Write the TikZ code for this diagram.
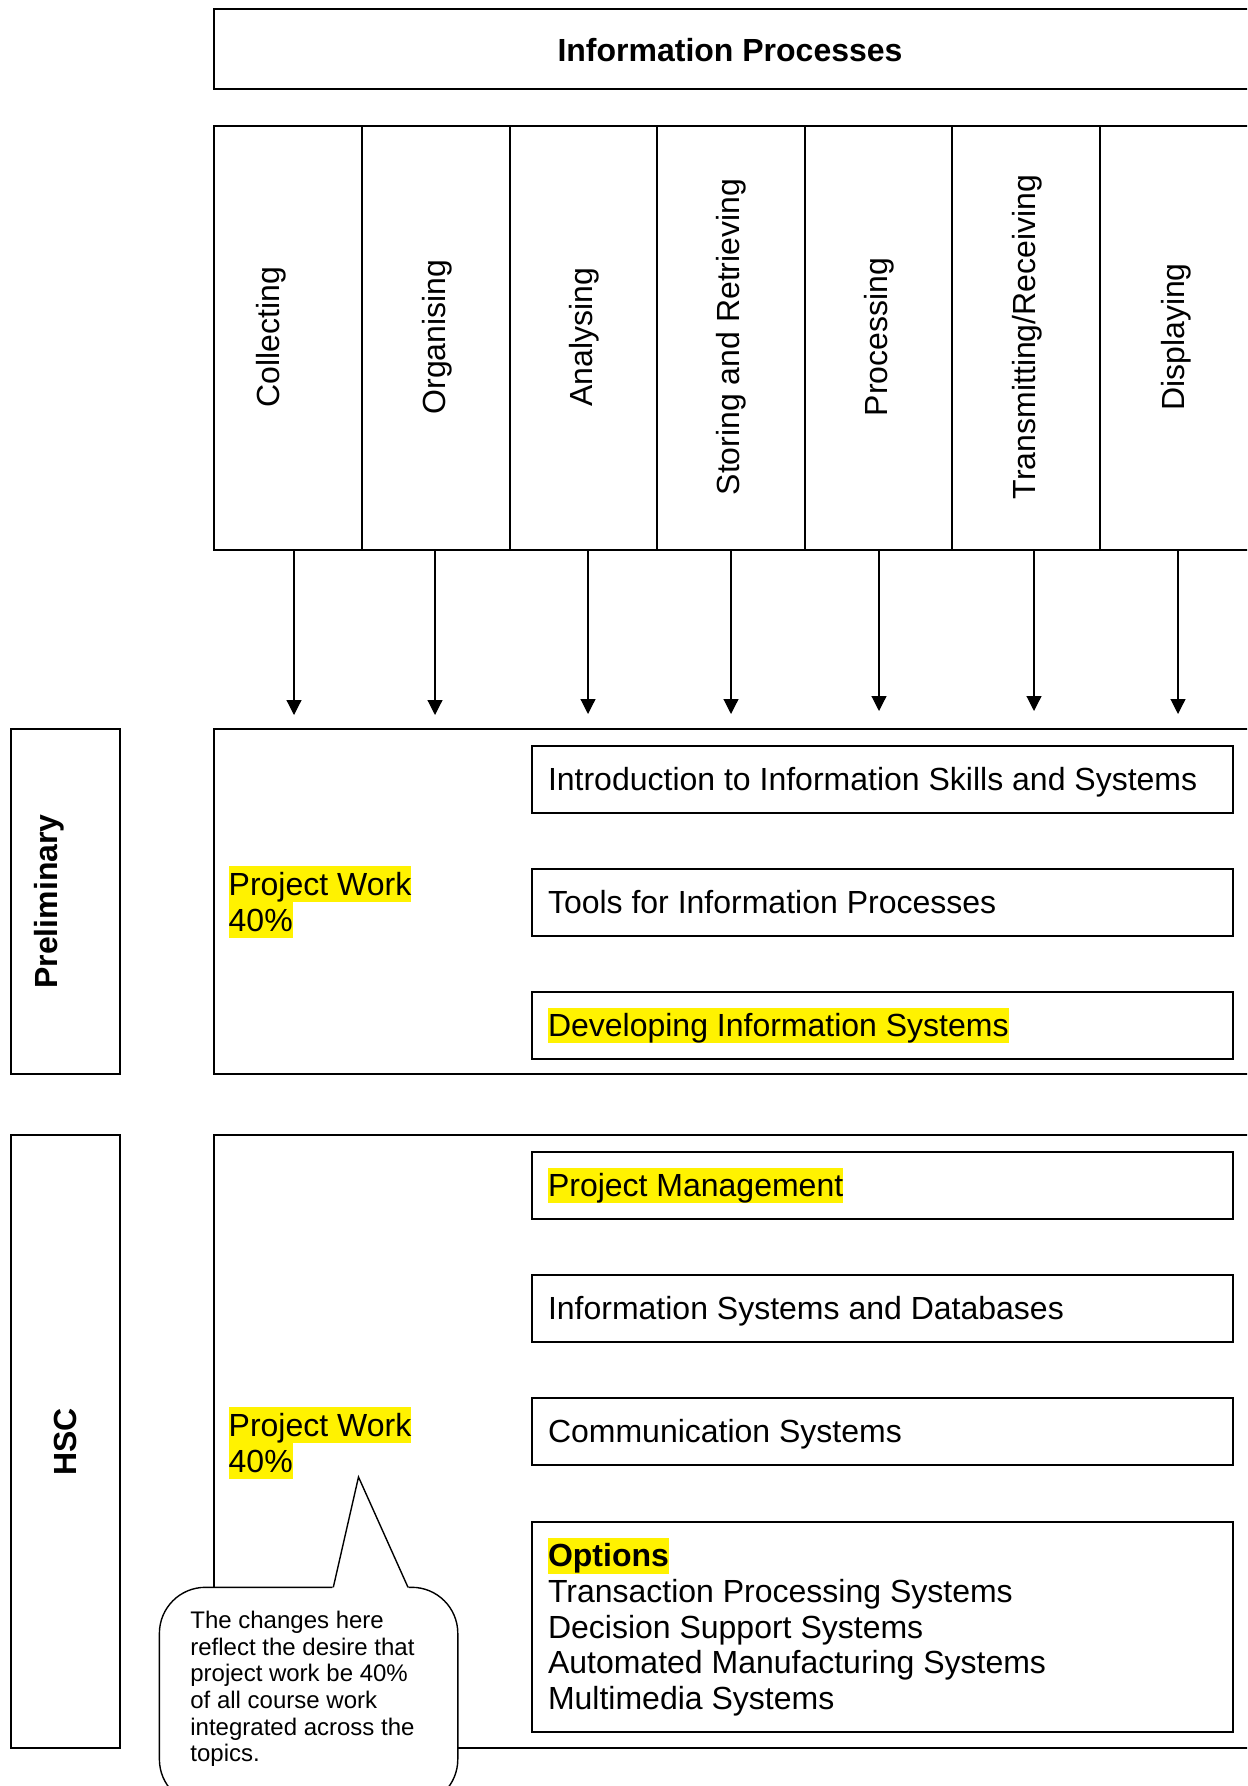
\documentclass[tikz,border=0pt]{standalone}
\usepackage{fontspec}
\setmainfont{Liberation Sans}
\usetikzlibrary{arrows.meta}
\newcommand\hlt[1]{{\setlength{\fboxsep}{0pt}\colorbox{yellow}{\rule[-3.4pt]{0pt}{17.9pt}#1}}}
\newcommand\stl{\rule[-3.4pt]{0pt}{17.9pt}}
\begin{document}
\begin{tikzpicture}[x=0.5pt,y=-0.5pt,
  box/.style={draw, line width=1pt, inner sep=0pt, outer sep=0pt, anchor=north west},
  topic/.style={draw, line width=1pt, anchor=north west, outer sep=0pt, minimum width=350.5pt,
    minimum height=33.5pt, inner xsep=8pt, inner ysep=0pt, text width=334.5pt,
    align=flush left, font=\fontsize{16pt}{17.85pt}\selectfont},
  collabel/.style={rotate=90, inner sep=0pt, font=\fontsize{16pt}{18pt}\selectfont},
  sidelabel/.style={rotate=90, inner sep=0pt, font=\fontsize{16pt}{18pt}\selectfont\bfseries},
  flow/.style={line width=0.6pt, -{Triangle[width=7.5pt,length=7.5pt]}},
  pw/.style={anchor=north west, inner sep=0pt, align=flush left,
    font=\fontsize{16pt}{17.95pt}\selectfont},
  callbox/.style={draw, line width=0.7pt, fill=white, rounded corners=23pt,
    anchor=north west, inner sep=0pt, outer sep=0pt},
]
\useasboundingbox (0,0) rectangle (1247,1786);
\clip (0,0) rectangle (1247,1786);

% title box
\node[box, minimum width=523pt, minimum height=40pt] (top) at (214,9) {};
\node[inner sep=0pt, font=\fontsize{16pt}{18pt}\selectfont\bfseries] (title) at (730,50) {Information Processes};

% process columns
\node[box, minimum width=74pt, minimum height=212pt] (c1) at (214,126) {};
\node[box, minimum width=74pt, minimum height=212pt] (c2) at (362,126) {};
\node[box, minimum width=73.5pt, minimum height=212pt] (c3) at (510,126) {};
\node[box, minimum width=74pt, minimum height=212pt] (c4) at (657,126) {};
\node[box, minimum width=73.5pt, minimum height=212pt] (c5) at (805,126) {};
\node[box, minimum width=74pt, minimum height=212pt] (c6) at (952,126) {};
\node[box, minimum width=80pt, minimum height=212pt] (c7) at (1100,126) {};

\node[collabel] (l1) at (271,337) {Collecting};
\node[collabel] (l2) at (437,337) {Organising};
\node[collabel] (l3) at (584,337) {Analysing};
\node[collabel] (l4) at (731,337) {Storing and Retrieving};
\node[collabel] (l5) at (879,337) {Processing};
\node[collabel] (l6) at (1027,337) {Transmitting/Receiving};
\node[collabel] (l7) at (1176,337) {Displaying};

% arrows
\coordinate (a1) at (294,715);
\coordinate (a2) at (435,715);
\coordinate (a3) at (588,714);
\coordinate (a4) at (731,714);
\coordinate (a5) at (879,711);
\coordinate (a6) at (1034,711);
\coordinate (a7) at (1178,714);
\draw[flow] (c1.south -| a1) -- (a1);
\draw[flow] (c2.south -| a2) -- (a2);
\draw[flow] (c3.south -| a3) -- (a3);
\draw[flow] (c4.south -| a4) -- (a4);
\draw[flow] (c5.south -| a5) -- (a5);
\draw[flow] (c6.south -| a6) -- (a6);
\draw[flow] (c7.south -| a7) -- (a7);

% Preliminary
\node[box, minimum width=54.5pt, minimum height=172.5pt] (prelimside) at (11,729) {};
\node[sidelabel] (prelimlabel) at (49,901.5) {Preliminary};
\node[box, minimum width=523pt, minimum height=172.5pt] (prelim) at (214,729) {};
\node[topic] (p1) at (532,746) {\stl Introduction to Information Skills and Systems};
\node[topic] (p2) at (532,869) {\stl Tools for Information Processes};
\node[topic] (p3) at (532,992) {\hlt{Developing Information Systems}};
\node[pw] (pwprelim) at (228.3,866) {\hlt{Project Work}\\ \hlt{40\%}};

% HSC
\node[box, minimum width=54.5pt, minimum height=306.5pt] (hscside) at (11,1135) {};
\node[sidelabel] (hsclabel) at (65,1441.7) {HSC};
\node[box, minimum width=523pt, minimum height=306.5pt] (hsc) at (214,1135) {};
\node[topic] (h1) at (532,1152) {\hlt{Project Management}};
\node[topic] (h2) at (532,1275) {\stl Information Systems and Databases};
\node[topic] (h3) at (532,1398) {\stl Communication Systems};
\node[topic, minimum height=105pt] (h4) at (532,1522) {\hlt{\textbf{Options}}\\ Transaction Processing Systems\\ Decision Support Systems\\ Automated Manufacturing Systems\\ Multimedia Systems};
\node[pw] (pwhsc) at (228.3,1407) {\hlt{Project Work}\\ \hlt{40\%}};

% callout
\node[callbox, minimum width=149.2pt, minimum height=109pt] (note) at (159.4,1587.3) {};
\fill[white] (332,1590) -- (358.5,1477) -- (409.5,1590) -- cycle;
\draw[line width=0.7pt, line join=miter] (333.3,1587.3) -- (358.5,1477) -- (408,1587.3);
\node[anchor=north west, inner sep=0pt, align=flush left, font=\fontsize{12pt}{13.35pt}\selectfont] (notetext) at (190,1610.5)
  {The changes here\\ reflect the desire that\\ project work be 40\%\\ of all course work\\ integrated across the\\ topics.};
\end{tikzpicture}
\end{document}
